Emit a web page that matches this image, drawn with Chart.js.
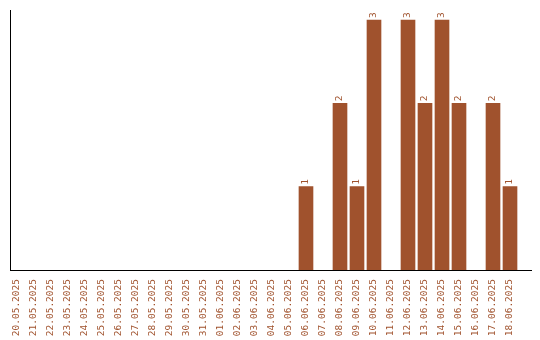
<!DOCTYPE html>
<html>
<head>
<meta charset="utf-8">
<script src="https://cdn.jsdelivr.net/npm/chart.js@4"></script>
<style>
  html, body { margin: 0; padding: 0; background: #fff; }
  #wrap { width: 540px; height: 340px; }
</style>
</head>
<body>
<div id="wrap"><canvas id="chart" width="540" height="340"></canvas></div>
<script>
const dates = [
  "20.05.2025", "21.05.2025", "22.05.2025", "23.05.2025", "24.05.2025",
  "25.05.2025", "26.05.2025", "27.05.2025", "28.05.2025", "29.05.2025",
  "30.05.2025", "31.05.2025", "01.06.2025", "02.06.2025", "03.06.2025",
  "04.06.2025", "05.06.2025", "06.06.2025", "07.06.2025", "08.06.2025",
  "09.06.2025", "10.06.2025", "11.06.2025", "12.06.2025", "13.06.2025",
  "14.06.2025", "15.06.2025", "16.06.2025", "17.06.2025", "18.06.2025",
];
const counts = [
  0, 0, 0, 0, 0, 0, 0, 0, 0, 0,
  0, 0, 0, 0, 0, 0, 0, 1, 0, 2,
  1, 3, 0, 3, 2, 3, 2, 0, 2, 1,
];

const BAR_COLOR = "#A0522D";
const FONT = { family: "'DejaVu Sans Mono', monospace", size: 9.5 };

// value labels drawn vertically above each bar
const barLabels = {
  id: "barLabels",
  afterDatasetsDraw(chart) {
    const ctx = chart.ctx;
    const meta = chart.getDatasetMeta(0);
    ctx.save();
    ctx.fillStyle = BAR_COLOR;
    ctx.font = `${FONT.size}px ${FONT.family}`;
    ctx.textAlign = "left";
    ctx.textBaseline = "middle";
    meta.data.forEach((bar, i) => {
      const v = counts[i];
      if (!v) return;
      ctx.save();
      ctx.translate(bar.x, bar.y - 2);
      ctx.rotate(-Math.PI / 2);
      ctx.fillText(String(v), 0, 0);
      ctx.restore();
    });
    ctx.restore();
  },
};

new Chart(document.getElementById("chart"), {
  type: "bar",
  data: {
    datasets: [
      {
        // zero days have no bar at all
        data: counts.map((v, i) => ({ x: i, y: v === 0 ? null : v })),
        backgroundColor: BAR_COLOR,
        barThickness: 14,
        borderWidth: 0,
      },
    ],
  },
  options: {
    responsive: false,
    animation: false,
    layout: { padding: { top: 10, right: 9, left: 0, bottom: 0 } },
    plugins: {
      legend: { display: false },
      tooltip: { enabled: false },
    },
    scales: {
      x: {
        type: "linear",
        offset: false,
        min: -0.41,
        max: 30.235,
        afterBuildTicks(scale) {
          scale.ticks = dates.map((_, i) => ({ value: i }));
        },
        afterFit(scale) {
          scale.height = 70;
          scale.paddingLeft = 0;
          scale.paddingRight = 0;
        },
        grid: { display: false, offset: false },
        border: { display: true, color: "#000", width: 1 },
        ticks: {
          autoSkip: false,
          minRotation: 90,
          maxRotation: 90,
          padding: 1,
          color: BAR_COLOR,
          font: FONT,
          callback: (value) => dates[value] ?? "",
        },
      },
      y: {
        min: 0,
        max: 3.12,
        afterFit(scale) {
          scale.width = 10;
          scale.paddingTop = 0;
          scale.paddingBottom = 0;
        },
        grid: { display: false },
        border: { display: true, color: "#000", width: 1 },
        ticks: { display: false },
      },
    },
  },
  plugins: [barLabels],
});
</script>
</body>
</html>
